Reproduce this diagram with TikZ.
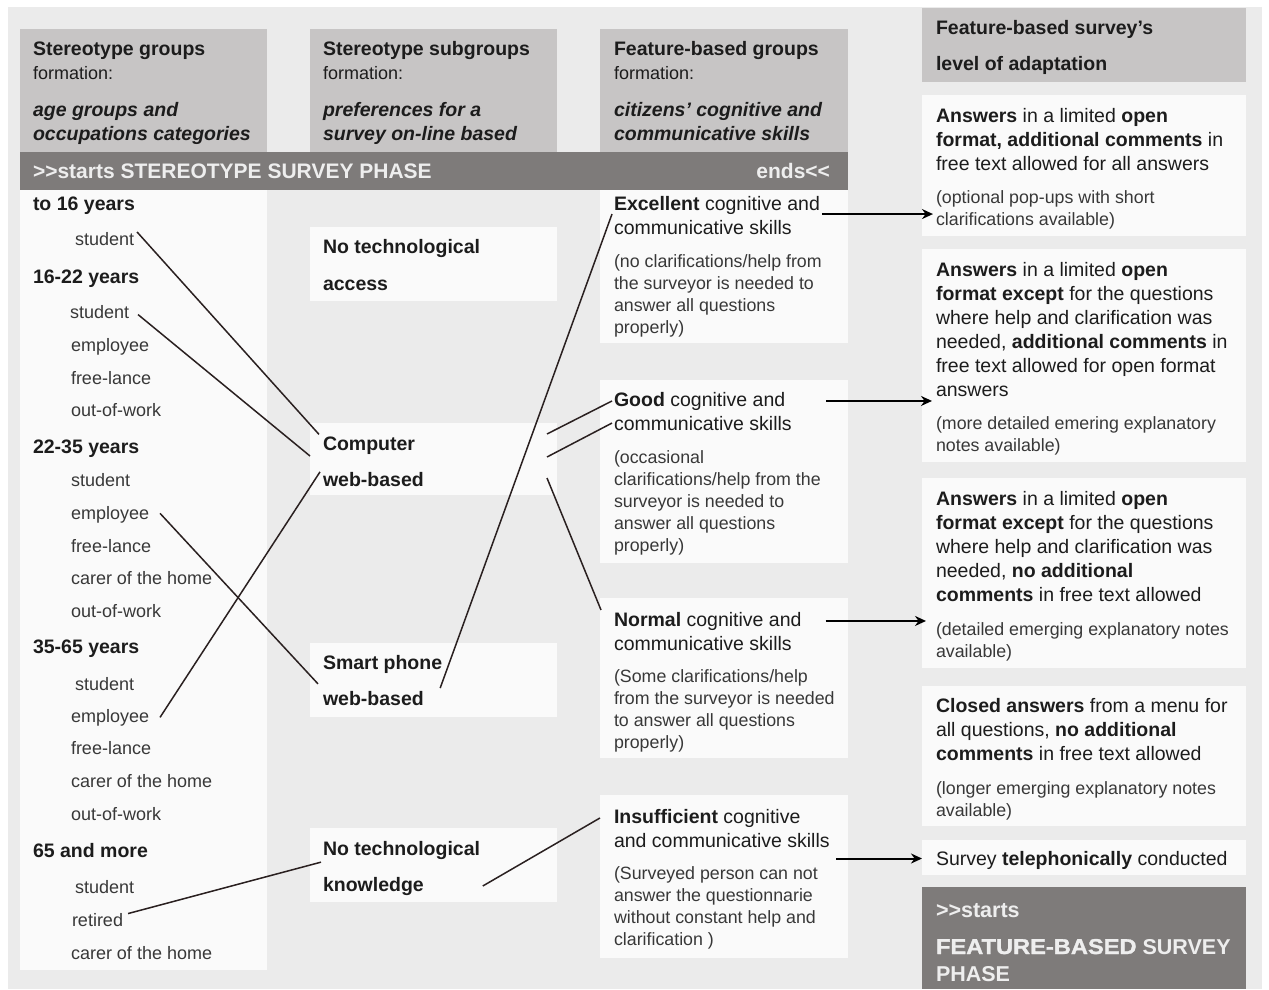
\documentclass[tikz,border=0pt]{standalone}
\usepackage{fontspec}
\setmainfont{Liberation Sans}
\newfontfamily\heavyfont{Liberation Sans}[FakeBold=1.4]
\usetikzlibrary{arrows.meta,calc}

\definecolor{bgc}{HTML}{EBEBEB}
\definecolor{headc}{HTML}{C7C5C5}
\definecolor{darkc}{HTML}{7E7B7A}
\definecolor{boxc}{HTML}{FAFAFA}
\definecolor{inkc}{HTML}{1C1C1C}
\definecolor{itemc}{HTML}{383838}
\definecolor{lightc}{HTML}{EEEEEE}
\definecolor{linkc}{HTML}{2A2020}

\tikzset{
  panel/.style={rectangle, inner sep=0pt, outer sep=0pt, anchor=north west, draw=none},
  txt/.style={anchor=base west, inner sep=0pt, outer sep=0pt, text=inkc,
    font=\fontsize{19.5}{24}\selectfont},
  bigtxt/.style={txt, font=\bfseries\fontsize{19.5}{24}\selectfont},
  item/.style={txt, text=itemc, font=\fontsize{18}{22}\selectfont},
  note/.style={txt, text=itemc, font=\fontsize{17.8}{22}\selectfont},
  phase/.style={txt, text=lightc, font=\bfseries\fontsize{21}{24}\selectfont},
  link/.style={draw=linkc, line width=1.5pt},
  arr/.style={draw=black, line width=2pt, -{Stealth[length=11pt,width=10pt]}},
}

% a block of text lines: style, name prefix, x, first baseline, line step, lines
\newcommand\txtlines[6]{%
  \foreach \lineText [count=\lineNo] in {#6} {%
    \node[#1] (#2\lineNo) at (#3, {#4+(\lineNo-1)*#5}) {\lineText};}}

\begin{document}
\begin{tikzpicture}[x=1pt, y=-1pt]
\useasboundingbox (0,0) rectangle (1269,989);
\fill[bgc] (8,7) rectangle (1262,989);

% ---- panels ----
\node[panel, fill=headc, minimum width=247pt, minimum height=123pt] (h1) at (20,29) {};
\node[panel, fill=headc, minimum width=247pt, minimum height=123pt] (h2) at (310,29) {};
\node[panel, fill=headc, minimum width=248pt, minimum height=123pt] (h3) at (600,29) {};
\node[panel, fill=headc, minimum width=324pt, minimum height=74pt] (h4) at (922,8) {};
\node[panel, fill=darkc, minimum width=828pt, minimum height=38pt] (bar) at (20,152) {};
\node[panel, fill=boxc, minimum width=247pt, minimum height=780pt] (list) at (20,190) {};

\node[panel, fill=boxc, minimum width=247pt, minimum height=74pt] (bacc) at (310,227) {};
\node[panel, fill=boxc, minimum width=247pt, minimum height=72pt] (bcomp) at (310,423) {};
\node[panel, fill=boxc, minimum width=247pt, minimum height=74pt] (bsmart) at (310,643) {};
\node[panel, fill=boxc, minimum width=247pt, minimum height=74pt] (bknow) at (310,828) {};

\node[panel, fill=boxc, minimum width=248pt, minimum height=153pt] (bexc) at (600,190) {};
\node[panel, fill=boxc, minimum width=248pt, minimum height=183pt] (bgood) at (600,380) {};
\node[panel, fill=boxc, minimum width=248pt, minimum height=160pt] (bnorm) at (600,598) {};
\node[panel, fill=boxc, minimum width=248pt, minimum height=163pt] (binsuf) at (600,795) {};

\node[panel, fill=boxc, minimum width=324pt, minimum height=141pt] (bA) at (922,95) {};
\node[panel, fill=boxc, minimum width=324pt, minimum height=213pt] (bB) at (922,249) {};
\node[panel, fill=boxc, minimum width=324pt, minimum height=190pt] (bC) at (922,478) {};
\node[panel, fill=boxc, minimum width=324pt, minimum height=140pt] (bD) at (922,686) {};
\node[panel, fill=boxc, minimum width=324pt, minimum height=35pt] (bE) at (922,840) {};
\node[panel, fill=darkc, minimum width=324pt, minimum height=102pt] (bF) at (922,887) {};

% ---- column headers ----
\node[bigtxt] (h1a) at (33,55) {Stereotype groups};
\node[txt, font=\fontsize{18}{22}\selectfont] (h1b) at (33,79) {formation:};
\node[bigtxt, font=\bfseries\itshape\fontsize{19.5}{24}\selectfont] (h1c) at (33,116) {age groups and};
\node[bigtxt, font=\bfseries\itshape\fontsize{19.5}{24}\selectfont] (h1d) at (33,140) {occupations categories};

\node[bigtxt] (h2a) at (323,55) {Stereotype subgroups};
\node[txt, font=\fontsize{18}{22}\selectfont] (h2b) at (323,79) {formation:};
\node[bigtxt, font=\bfseries\itshape\fontsize{19.5}{24}\selectfont] (h2c) at (323,116) {preferences for a};
\node[bigtxt, font=\bfseries\itshape\fontsize{19.5}{24}\selectfont] (h2d) at (323,140) {survey on-line based};

\node[bigtxt] (h3a) at (614,55) {Feature-based groups};
\node[txt, font=\fontsize{18}{22}\selectfont] (h3b) at (614,79) {formation:};
\node[bigtxt, font=\bfseries\itshape\fontsize{19.5}{24}\selectfont] (h3c) at (614,116) {citizens' cognitive and};
\node[bigtxt, font=\bfseries\itshape\fontsize{19.5}{24}\selectfont] (h3d) at (614,140) {communicative skills};

\node[bigtxt] (h4a) at (936,34) {Feature-based survey's};
\node[bigtxt] (h4b) at (936,70) {level of adaptation};

\node[phase] (barL) at (33,178) {>\kern0pt>starts STEREOTYPE SURVEY PHASE};
\node[phase, anchor=base east] (barR) at (830,178) {ends<\kern0pt<};

% ---- age groups and occupations ----
\node[bigtxt] (g1) at (33,210) {to 16 years};
\node[item] (g1a) at (75,245) {student};
\node[bigtxt] (g2) at (33,283) {16-22 years};
\node[item] (g2a) at (70,318) {student};
\node[item] (g2b) at (71,351) {employee};
\node[item] (g2c) at (71,384) {free-lance};
\node[item] (g2d) at (71,416) {out-of-work};
\node[bigtxt] (g3) at (33,453) {22-35 years};
\node[item] (g3a) at (71,486) {student};
\node[item] (g3b) at (71,519) {employee};
\node[item] (g3c) at (71,552) {free-lance};
\node[item] (g3d) at (71,584) {carer of the home};
\node[item] (g3e) at (71,617) {out-of-work};
\node[bigtxt] (g4) at (33,653) {35-65 years};
\node[item] (g4a) at (75,690) {student};
\node[item] (g4b) at (71,722) {employee};
\node[item] (g4c) at (71,754) {free-lance};
\node[item] (g4d) at (71,787) {carer of the home};
\node[item] (g4e) at (71,820) {out-of-work};
\node[bigtxt] (g5) at (33,857) {65 and more};
\node[item] (g5a) at (75,893) {student};
\node[item] (g5b) at (72,926) {retired};
\node[item] (g5c) at (71,959) {carer of the home};

% ---- on-line preferences ----
\node[bigtxt] (ac1) at (323,253) {No technological};
\node[bigtxt] (ac2) at (323,290) {access};
\node[bigtxt] (cp1) at (323,450) {Computer};
\node[bigtxt] (cp2) at (323,486) {web-based};
\node[bigtxt] (sp1) at (323,669) {Smart phone};
\node[bigtxt] (sp2) at (323,705) {web-based};
\node[bigtxt] (nk1) at (323,855) {No technological};
\node[bigtxt] (nk2) at (323,891) {knowledge};

% ---- cognitive and communicative skills ----
\txtlines{txt}{ex}{614}{210}{24}{\textbf{Excellent} cognitive and, communicative skills}
\txtlines{note}{exn}{614}{267}{22}{{(no clarifications/help from}, the surveyor is needed to, answer all questions, properly)}
\txtlines{txt}{gd}{614}{406}{24}{\textbf{Good} cognitive and, communicative skills}
\txtlines{note}{gdn}{614}{463}{22}{{(occasional}, clarifications/help from the, surveyor is needed to, answer all questions, properly)}
\txtlines{txt}{nm}{614}{626}{24}{\textbf{Normal} cognitive and, communicative skills}
\txtlines{note}{nmn}{614}{682}{22}{{(Some clarifications/help}, from the surveyor is needed, to answer all questions, properly)}
\txtlines{txt}{in}{614}{823}{24}{\textbf{Insufficient} cognitive, and communicative skills}
\txtlines{note}{inn}{614}{879}{22}{{(Surveyed person can not}, answer the questionnarie, without constant help and, clarification )}

% ---- level of adaptation ----
\txtlines{txt}{a}{936}{122}{24}{\textbf{Answers} in a limited \textbf{open}, {\textbf{format, additional comments} in}, free text allowed for all answers}
\txtlines{note}{an}{936}{203}{22}{{(optional pop-ups with short}, clarifications available)}
\txtlines{txt}{b}{936}{276}{24}{\textbf{Answers} in a limited \textbf{open}, \textbf{format except} for the questions, where help and clarification was, {needed, \textbf{additional comments} in}, free text allowed for open format, answers}
\txtlines{note}{bn}{936}{429}{22}{{(more detailed emering explanatory}, notes available)}
\txtlines{txt}{c}{936}{505}{24}{\textbf{Answers} in a limited \textbf{open}, \textbf{format except} for the questions, where help and clarification was, {needed, \textbf{no additional}}, \textbf{comments} in free text allowed}
\txtlines{note}{cn}{936}{635}{22}{{(detailed emerging explanatory notes}, available)}
\txtlines{txt}{d}{936}{712}{24}{\textbf{Closed answers} from a menu for, {all questions, \textbf{no additional}}, \textbf{comments} in free text allowed}
\txtlines{note}{dn}{936}{794}{22}{{(longer emerging explanatory notes}, available)}
\node[txt] (e1) at (936,865) {Survey \textbf{telephonically} conducted};

\node[phase, font=\bfseries\fontsize{21.5}{24}\selectfont] (f1) at (936,917) {>\kern0pt>starts};
\node[phase, font=\bfseries\fontsize{21.5}{24}\selectfont] (f2) at (936,954)
  {\scalebox{1.1}[1]{\heavyfont\bfseries FEATURE-BASED} SURVEY};
\node[phase, font=\bfseries\fontsize{21.5}{24}\selectfont] (f3) at (936,981) {PHASE};

% ---- links between groups ----
\draw[link] ([xshift=3pt]g1a.north east) -- ([shift={(-4pt,2pt)}]cp1.north west);
\draw[link] ([shift={(9pt,-3pt)}]g2a.east) -- ([yshift=3pt]bcomp.west);
\draw[link] ([shift={(11pt,1pt)}]g3b.east) -- ([shift={(-5pt,7pt)}]sp2.north west);
\draw[link] ([xshift=11pt]g4b.east) -- ([xshift=-3pt]cp2.north west);
\draw[link] ([shift={(5pt,6pt)}]g5b.east) -- ([shift={(-2pt,-3pt)}]nk1.south west);
\draw[link] ([shift={(-2pt,-15pt)}]sp1.south east) -- ([xshift=-2pt]ex1.south west);
\draw[link] ([shift={(-10pt,-11pt)}]bcomp.north east) -- ([xshift=-2pt]gd1.west);
\draw[link] ([shift={(-10pt,-34pt)}]bcomp.north east) -- ([xshift=-2pt]gd2.west);
\draw[link] ([shift={(-10pt,-55pt)}]bcomp.north east) -- ([shift={(-13pt,11pt)}]nm1.west);
\draw[link] ([xshift=59pt]nk2.east) -- ([xshift=-14pt]in1.west);

% ---- arrows to the adaptation levels ----
\draw[arr] ($(ex1.south east)+(2,0)$) -- ($(bA.west |- ex1.south east)+(11,0)$);
\draw[arr] ($(gd1.east)+(41,0)$) -- ($(bB.west |- gd1.east)+(10,0)$);
\draw[arr] ($(nm1.east)+(24,0)$) -- ($(bC.west |- nm1.east)+(4,0)$);
\draw[arr] ($(bE.west)+(-86,1)$) -- ($(bE.west)+(0,1)$);
\end{tikzpicture}
\end{document}
